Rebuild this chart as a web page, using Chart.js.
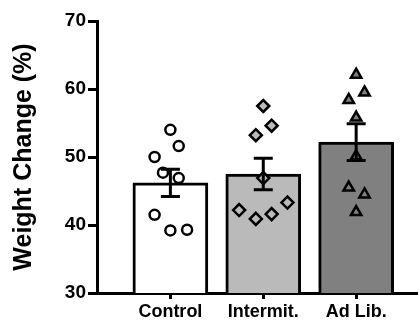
<!DOCTYPE html>
<html>
<head>
<meta charset="utf-8">
<script src="https://cdn.jsdelivr.net/npm/chart.js@4/dist/chart.umd.min.js"></script>
<style>
  html, body { margin: 0; padding: 0; background: #fff; }
</style>
</head>
<body>
<canvas id="weightChart" width="419" height="320"></canvas>
<script>
// === DATA ===
const groups = ['Control', 'Intermit.', 'Ad Lib.'];
const groupPos = [1, 2, 3];
const means = [46.2, 47.5, 52.2];
const sems = [2.0, 2.3, 2.7];
const barColors = ['#ffffff', '#bababa', '#808080'];

const controlX = [1.0, 1.09, 0.83, 0.92, 1.09, 0.83, 1.0, 1.18];
const controlY = [54.0, 51.6, 50.0, 47.7, 46.9, 41.5, 39.2, 39.3];
const intermitX = [2.0, 2.09, 1.92, 2.0, 1.74, 1.92, 2.09, 2.26];
const intermitY = [57.5, 54.6, 53.2, 46.9, 42.2, 40.9, 41.6, 43.3];
const adLibX = [3.0, 3.09, 2.92, 3.0, 3.0, 2.92, 3.09, 3.0];
const adLibY = [62.1, 59.5, 58.4, 55.8, 50.1, 45.5, 44.5, 41.9];

const yTicks = [30, 40, 50, 60, 70];

Chart.defaults.font.family = '"Liberation Sans", Arial, sans-serif';
Chart.defaults.color = '#000';

const toPts = (xs, ys) => xs.map((x, i) => ({ x, y: ys[i] }));

// SEM bars on top of the points
const errorBars = {
    id: 'errorBars',
    afterDatasetsDraw(chart) {
        const { ctx, scales: { x, y } } = chart;
        ctx.save();
        ctx.strokeStyle = '#000';
        ctx.lineWidth = 3;
        groupPos.forEach((g, i) => {
            const px = x.getPixelForValue(g);
            const top = y.getPixelForValue(means[i] + sems[i]);
            const bot = y.getPixelForValue(means[i] - sems[i]);
            ctx.beginPath();
            ctx.moveTo(px, top); ctx.lineTo(px, bot);
            ctx.moveTo(px - 9.5, top); ctx.lineTo(px + 9.5, top);
            ctx.moveTo(px - 9.5, bot); ctx.lineTo(px + 9.5, bot);
            ctx.stroke();
        });
        ctx.restore();
    }
};

const ptStyle = { borderColor: '#000', borderWidth: 2.5, pointHoverRadius: 5, order: 0 };

new Chart(document.getElementById('weightChart').getContext('2d'), {
    type: 'bar',
    data: {
        datasets: [
            {
                type: 'bar',
                order: 2,
                data: toPts(groupPos, means),
                backgroundColor: barColors,
                borderColor: '#000',
                borderWidth: 3,
                borderSkipped: false,
                barThickness: 75
            },
            { type: 'scatter', data: toPts(controlX, controlY), pointStyle: 'circle', radius: 5, backgroundColor: '#ffffff', ...ptStyle },
            { type: 'scatter', data: toPts(intermitX, intermitY), pointStyle: 'rectRot', radius: 6, backgroundColor: barColors[1], ...ptStyle },
            { type: 'scatter', data: toPts(adLibX, adLibY), pointStyle: 'triangle', radius: 6, backgroundColor: barColors[2], ...ptStyle }
        ]
    },
    options: {
        responsive: false,
        animation: false,
        layout: { autoPadding: false, padding: { left: 0, right: 2, top: 21, bottom: 0 } },
        plugins: { legend: { display: false }, tooltip: { enabled: false } },
        scales: {
            x: {
                type: 'linear', min: 0.21, max: 3.655, offset: false,
                afterBuildTicks: s => { s.ticks = groupPos.map(v => ({ value: v })); },
                afterFit: s => { s.height = 27; s.paddingRight = 0; },
                grid: { offset: false, drawOnChartArea: false, tickLength: 6, tickWidth: 3, tickColor: '#000' },
                border: { color: '#000', width: 3 },
                ticks: { padding: 2, color: '#000', font: { size: 18, weight: 'bold' }, callback: v => groups[v - 1] || '' }
            },
            y: {
                min: 30, max: 70,
                afterBuildTicks: s => { s.ticks = yTicks.map(v => ({ value: v })); },
                afterFit: s => { s.width = 97; },
                grid: { drawOnChartArea: false, tickLength: 9, tickWidth: 3, tickColor: '#000' },
                border: { color: '#000', width: 3 },
                ticks: { padding: 2, color: '#000', font: { size: 19, weight: 'bold' } },
                title: { display: true, text: 'Weight Change (%)', color: '#000', font: { size: 25, weight: 'bold' }, padding: { top: 9, bottom: 0 } }
            }
        }
    },
    plugins: [errorBars]
});
</script>
</body>
</html>
